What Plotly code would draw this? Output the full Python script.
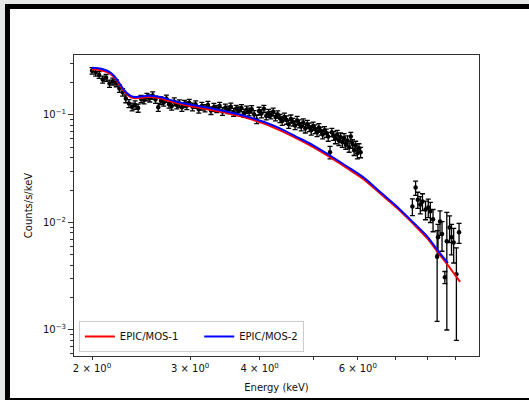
import plotly.graph_objects as go

# Observed spectrum: energy bin centres (keV), rate (counts/s/keV) and 1-sigma errors
energy = [
    2.00, 2.03, 2.06, 2.09, 2.12, 2.15, 2.18, 2.21, 2.24, 2.27,
    2.30, 2.33, 2.36, 2.39, 2.42, 2.45, 2.48, 2.51, 2.54, 2.57,
    2.60, 2.63, 2.66, 2.69, 2.72, 2.75, 2.78, 2.81, 2.84, 2.87,
    2.90, 2.93, 2.96, 2.99,
    3.03, 3.07, 3.11, 3.15, 3.19, 3.23, 3.27, 3.31, 3.35, 3.39,
    3.43, 3.47, 3.51, 3.55, 3.59, 3.63, 3.67, 3.71, 3.75, 3.79,
    3.83, 3.87, 3.91, 3.95, 3.99, 4.03, 4.07, 4.11, 4.15, 4.19,
    4.23, 4.27, 4.31, 4.35, 4.39, 4.43, 4.47, 4.51, 4.55, 4.59,
    4.63, 4.67, 4.71, 4.75, 4.79, 4.83, 4.87, 4.91, 4.95, 4.99,
    5.03, 5.07, 5.11, 5.15, 5.19, 5.23, 5.27, 5.31, 5.35, 5.39,
    5.43, 5.47, 5.51, 5.55, 5.59, 5.63, 5.67, 5.71, 5.75, 5.79,
    5.83, 5.87, 5.91, 5.95, 5.99, 6.03, 6.07,
    7.52, 7.62, 7.69, 7.77, 7.84, 7.94, 8.03, 8.10, 8.19, 8.33,
    8.36, 8.43, 8.50, 8.60, 8.67, 8.77, 8.84, 8.92, 9.02, 9.12,
]
rate = [
    0.258, 0.248, 0.236, 0.214, 0.222, 0.196, 0.205, 0.198, 0.176, 0.163,
    0.142, 0.128, 0.119, 0.124, 0.116, 0.141, 0.138, 0.147, 0.143, 0.152,
    0.139, 0.118, 0.136, 0.131, 0.142, 0.126, 0.121, 0.133, 0.124, 0.128,
    0.118, 0.127, 0.122, 0.130,
    0.119, 0.125, 0.113, 0.121, 0.116, 0.124, 0.110, 0.118, 0.114, 0.121,
    0.108, 0.117, 0.112, 0.119, 0.106, 0.114, 0.110, 0.116, 0.104, 0.112,
    0.107, 0.113, 0.101, 0.091, 0.109, 0.103, 0.114, 0.098, 0.104, 0.100,
    0.107, 0.096, 0.101, 0.093, 0.088, 0.096, 0.090, 0.082, 0.092, 0.086,
    0.080, 0.089, 0.083, 0.078, 0.085, 0.075, 0.082, 0.077, 0.072, 0.079,
    0.074, 0.069, 0.076, 0.071, 0.066, 0.072, 0.068, 0.063, 0.045, 0.069,
    0.064, 0.060, 0.066, 0.058, 0.062, 0.056, 0.061, 0.053, 0.058, 0.050,
    0.063, 0.054, 0.047, 0.052, 0.044, 0.049, 0.045,
    0.0141, 0.0211, 0.0163, 0.0147, 0.0157, 0.0132, 0.0138, 0.0127, 0.0107, 0.0048,
    0.0073, 0.0102, 0.0078, 0.0031, 0.0067, 0.0090, 0.0073, 0.0065, 0.0033, 0.0081,
]
rate_err = [
    0.018, 0.018, 0.017, 0.016, 0.016, 0.015, 0.015, 0.015, 0.014, 0.013,
    0.012, 0.011, 0.010, 0.011, 0.010, 0.011, 0.011, 0.012, 0.011, 0.012,
    0.011, 0.010, 0.011, 0.010, 0.011, 0.010, 0.010, 0.011, 0.010, 0.010,
    0.010, 0.010, 0.010, 0.010,
    0.010, 0.010, 0.009, 0.010, 0.009, 0.010, 0.009, 0.010, 0.009, 0.010,
    0.009, 0.009, 0.009, 0.010, 0.009, 0.009, 0.009, 0.009, 0.009, 0.009,
    0.009, 0.009, 0.009, 0.008, 0.009, 0.009, 0.009, 0.008, 0.009, 0.008,
    0.009, 0.008, 0.008, 0.008, 0.008, 0.008, 0.008, 0.007, 0.008, 0.007,
    0.007, 0.008, 0.007, 0.007, 0.007, 0.007, 0.007, 0.007, 0.007, 0.007,
    0.007, 0.006, 0.007, 0.006, 0.006, 0.006, 0.006, 0.006, 0.006, 0.006,
    0.006, 0.006, 0.006, 0.006, 0.006, 0.006, 0.006, 0.005, 0.006, 0.005,
    0.006, 0.005, 0.005, 0.005, 0.005, 0.005, 0.005,
    0.0025, 0.0032, 0.0028, 0.0027, 0.0028, 0.0026, 0.0027, 0.0027, 0.0025, 0.0036,
    0.0023, 0.0026, 0.0024, 0.0004, 0.0057, 0.0025, 0.0023, 0.0023, 0.0025, 0.0017,
]

# Folded model curves for the two MOS cameras
model_energy_mos1 = [
    2.00, 2.05, 2.10, 2.15, 2.19, 2.23, 2.27, 2.31, 2.35, 2.40,
    2.46, 2.52, 2.58, 2.65, 2.75, 2.84, 2.95, 3.05, 3.25, 3.50,
    3.70, 4.05, 4.35, 4.65, 5.00, 5.35, 5.75, 6.15, 6.60, 7.05,
    7.55, 8.00, 8.35, 8.71, 9.16,
]
model_mos1 = [
    0.266, 0.263, 0.256, 0.244, 0.225, 0.199, 0.173, 0.156, 0.146, 0.143,
    0.145, 0.147, 0.146, 0.143, 0.135, 0.129, 0.123, 0.119, 0.112, 0.104,
    0.097, 0.084, 0.072, 0.061, 0.050, 0.0405, 0.0318, 0.0252, 0.0184, 0.0137,
    0.0097, 0.0071, 0.0053, 0.0040, 0.0028,
]
model_energy_mos2 = [
    2.00, 2.05, 2.10, 2.15, 2.19, 2.23, 2.27, 2.31, 2.35, 2.40,
    2.46, 2.52, 2.58, 2.65, 2.75, 2.84, 2.95, 3.05, 3.25, 3.50,
    3.70, 4.05, 4.35, 4.65, 5.00, 5.35, 5.75, 6.15, 6.60, 7.05,
    7.55, 8.00, 8.35, 8.71,
]
model_mos2 = [
    0.275, 0.272, 0.265, 0.252, 0.232, 0.205, 0.178, 0.160, 0.150, 0.147,
    0.149, 0.151, 0.150, 0.147, 0.139, 0.133, 0.127, 0.123, 0.116, 0.107,
    0.100, 0.087, 0.075, 0.063, 0.052, 0.042, 0.033, 0.0262, 0.0190, 0.0141,
    0.0100, 0.0074, 0.0055, 0.0042,
]

x_ticks = [2, 3, 4, 5, 6, 7, 8, 9]
x_tick_text = ["2 × 10<sup>0</sup>", "3 × 10<sup>0</sup>", "4 × 10<sup>0</sup>", "",
               "6 × 10<sup>0</sup>", "", "", ""]
y_ticks = [0.001, 0.01, 0.1]
y_tick_text = ["10<sup>−3</sup>", "10<sup>−2</sup>", "10<sup>−1</sup>"]
y_minor = [m * 10.0 ** p for p in (-4, -3, -2, -1) for m in range(2, 10)]

font_family = "DejaVu Sans"

fig = go.Figure()

fig.add_trace(go.Scatter(
    x=energy, y=rate, mode="markers",
    marker=dict(color="black", size=4.5),
    error_y=dict(type="data", array=rate_err, visible=True,
                 color="black", thickness=1.3, width=2.5),
    showlegend=False, hoverinfo="skip",
))
# non-breaking spaces widen the first legend column
fig.add_trace(go.Scatter(
    x=model_energy_mos1, y=model_mos1, mode="lines",
    name="EPIC/MOS-1\u00a0\u00a0\u00a0\u00a0\u00a0",
    line=dict(color="#ff0000", width=2, shape="spline", smoothing=0.8),
))
fig.add_trace(go.Scatter(
    x=model_energy_mos2, y=model_mos2, mode="lines", name="EPIC/MOS-2",
    line=dict(color="#0000ff", width=2, shape="spline", smoothing=0.8),
))

axis_common = dict(
    showline=True, linecolor="#333333", linewidth=1, mirror=True,
    showgrid=False, zeroline=False, ticks="outside", tickcolor="#333333",
    tickfont=dict(family=font_family, size=10, color="#111111"),
)

fig.update_xaxes(
    type="log", range=[0.2687, 0.9958],
    tickmode="array", tickvals=x_ticks, ticktext=x_tick_text, ticklen=3,
    title=dict(text="Energy (keV)", font=dict(family=font_family, size=10, color="#111111"),
               standoff=10),
    **axis_common,
)
fig.update_yaxes(
    type="log", range=[-3.242, -0.442],
    tickmode="array", tickvals=y_ticks, ticktext=y_tick_text, ticklen=5,
    minor=dict(ticks="outside", ticklen=3, tickcolor="#333333", tickmode="array",
               tickvals=y_minor, showgrid=False),
    title=dict(text="Counts/s/keV", font=dict(family=font_family, size=10, color="#111111"),
               standoff=8),
    **axis_common,
)

# Page frame: black border on a light grey page
fig.add_shape(
    type="rect", xref="paper", yref="paper",
    x0=-0.1642, x1=1.17, y0=-0.1478, y1=1.1611,
    line=dict(color="black", width=5), fillcolor="white", layer="below",
)

fig.update_layout(
    width=529, height=400,
    margin=dict(l=74, r=50, t=55, b=44, autoexpand=False),
    paper_bgcolor="#e7e9e9", plot_bgcolor="white",
    font=dict(family=font_family, size=10, color="#111111"),
    legend=dict(
        orientation="h", x=0.012, y=0.013, xanchor="left", yanchor="bottom",
        bgcolor="rgba(255,255,255,0.85)", bordercolor="#cccccc", borderwidth=1,
        font=dict(family=font_family, size=10, color="#111111"),
        itemwidth=30,
    ),
)

fig.write_html("out.html")
